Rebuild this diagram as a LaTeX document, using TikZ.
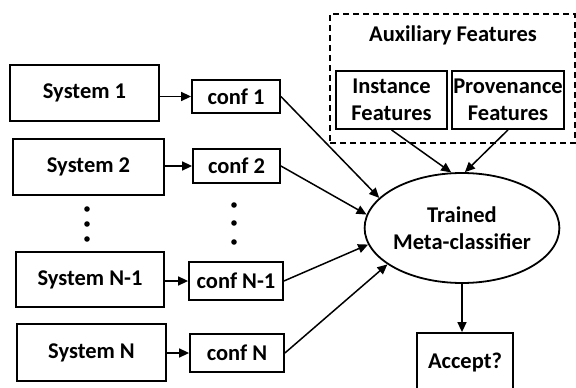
\documentclass[tikz,border=0pt]{standalone}
\usepackage{fontspec}
\setmainfont{Carlito}
\usetikzlibrary{arrows.meta,shapes.geometric}

\begin{document}
\begin{tikzpicture}[x=1pt,y=-1pt,
    font=\fontsize{22.5}{27.5}\selectfont\bfseries,
    box/.style={draw,line width=1.8pt,inner sep=0pt,align=center},
    dashbox/.style={draw,line width=1.9pt,dash pattern=on 6pt off 4pt,inner sep=0pt},
    conn/.style={-{Triangle[length=10pt,width=9pt]},line width=1.5pt}]
    \useasboundingbox (0,0) rectangle (576,388);
    % systems and their confidences
    \node[box,minimum width=149pt,minimum height=56pt] (sys1) at (84.5,93) {System 1};
    \node[box,minimum width=88pt,minimum height=33pt] (conf1) at (236,96.5) {conf 1};
    \node[box,minimum width=151pt,minimum height=56pt] (sys2) at (88.5,167) {System 2};
    \node[box,minimum width=87pt,minimum height=34pt] (conf2) at (236.5,166) {conf 2};
    \node[box,minimum width=148pt,minimum height=55pt] (sysN1) at (90,279.5) {System N-1};
    \node[box,minimum width=94pt,minimum height=38pt] (confN1) at (236,281) {conf N-1};
    \node[box,minimum width=149pt,minimum height=57pt] (sysN) at (91.5,352.5) {System N};
    \node[box,minimum width=94pt,minimum height=38pt] (confN) at (237,353) {conf N};
    \foreach \y in {209,224,239} \fill (87,\y) circle (2.8pt);
    \foreach \y in {205,223,242} \fill (234,\y) circle (2.8pt);
    % auxiliary features
    \node[dashbox,minimum width=245pt,minimum height=129pt] (aux) at (452.5,78.5) {};
    \node (auxtitle) at (453,35) {Auxiliary Features};
    \node[box,minimum width=111pt,minimum height=58pt] (inst) at (391.5,100) {Instance\\Features};
    \node[box,minimum width=112pt,minimum height=58pt] (prov) at (508,100) {Provenance\\Features};
    % classifier and decision
    \node[draw,ellipse,line width=1.8pt,inner sep=0pt,minimum width=190pt,minimum height=110pt,align=center] (meta) at (462,228) {Trained\\Meta-classifier};
    \node[box,minimum width=96pt,minimum height=58pt] (accept) at (465,362) {Accept?};

    \draw[conn] (sys1.east |- conf1.west) -- (conf1.west);
    \draw[conn] (sys2.east |- conf2.west) -- (conf2.west);
    \draw[conn] (sysN1.east |- confN1.west) -- (confN1.west);
    \draw[conn] (sysN.east |- confN.west) -- (confN.west);
    \draw[conn] (conf1.east) -- (meta.160.7);
    \draw[conn] (conf2.east) -- (meta.172.9);
    \draw[conn] (confN1.east) -- (meta.190);
    \draw[conn] (confN.east) -- (meta.206);
    \draw[conn] (inst.south) -- (meta.101.7);
    \draw[conn] (prov.south) -- (meta.87);
    \draw[conn] (meta.south) -- (meta.south |- accept.north);
\end{tikzpicture}
\end{document}
